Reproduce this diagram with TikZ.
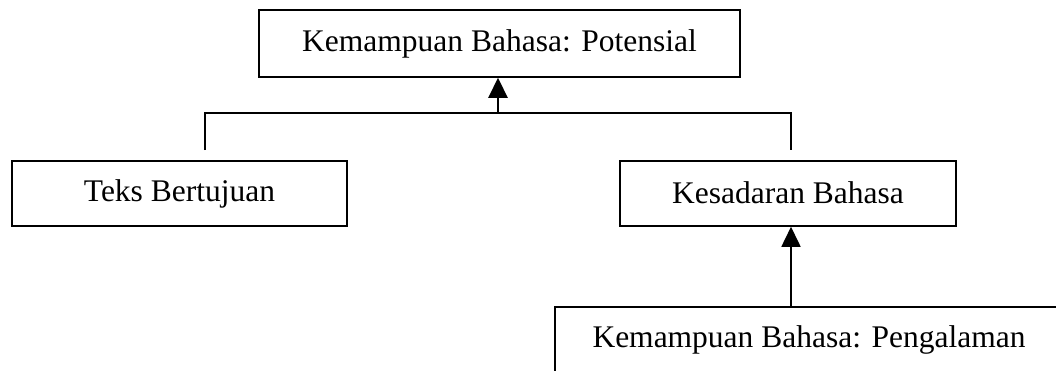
\documentclass[tikz,border=0pt]{standalone}
\usepackage{fontspec}
\setmainfont{Liberation Serif}
\usetikzlibrary{arrows.meta}
\begin{document}
\begin{tikzpicture}[x=1pt,y=-1pt,
  box/.style={draw,line width=1.5pt,inner sep=0pt,font=\fontsize{31.5}{36}\selectfont},
  link/.style={line width=1.5pt},
  arr/.style={line width=1.6pt,-{Triangle[length=20pt,width=19pt]}}]
\useasboundingbox (0,0) rectangle (1056,370);
\begin{scope}
\clip (0,0) rectangle (1056,370);
\node[box,minimum width=481pt,minimum height=67pt] (top) at (499.5,43.5) {\raisebox{2pt}{Kemampuan Bahasa: Potensial}};
\node[box,minimum width=335pt,minimum height=65pt] (left) at (179.5,193.5) {\raisebox{2pt}{Teks Bertujuan}};
\node[box,minimum width=336pt,minimum height=65pt] (right) at (788,193.5) {\raisebox{2pt}{Kesadaran Bahasa}};
\node[box,minimum width=508pt,minimum height=65pt] (bot) at (809,339.5) {\raisebox{2pt}{Kemampuan Bahasa: Pengalaman}};
\end{scope}
\coordinate (j) at (498,113);
\coordinate (jl) at (205,113);
\coordinate (jr) at (791,113);
\coordinate (el) at (205,150);
\coordinate (er) at (791,150);
\draw[link] (el) -- (jl) -- (jr) -- (er);
\draw[arr,line width=2.2pt] (j) -- (top.south -| j);
\draw[arr] (bot.north -| jr) -- (right.south -| jr);
\end{tikzpicture}
\end{document}
